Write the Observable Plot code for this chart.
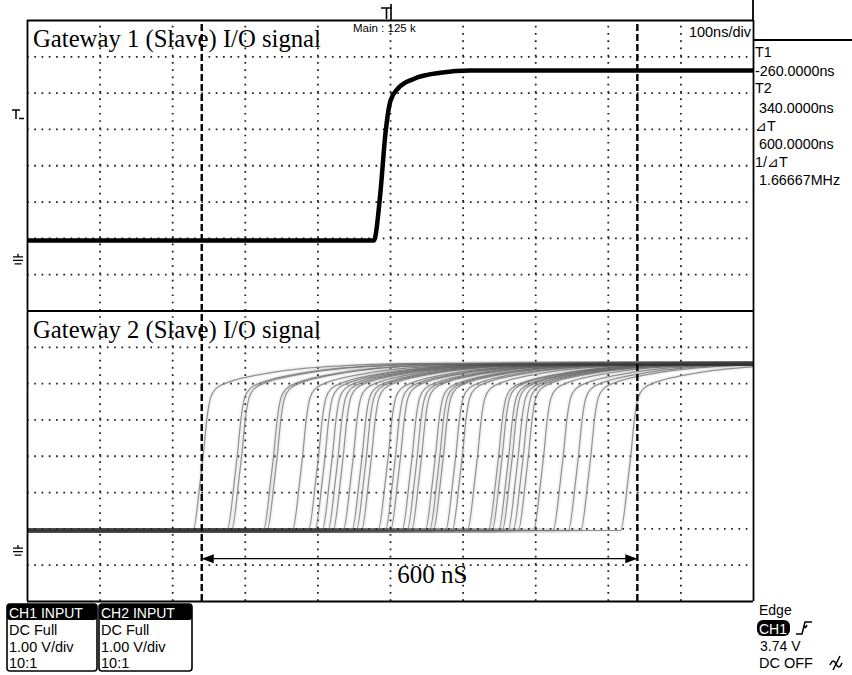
<!DOCTYPE html>
<html>
<head>
<meta charset="utf-8">
<script src="https://cdn.jsdelivr.net/npm/d3@7"></script>
<script src="https://cdn.jsdelivr.net/npm/@observablehq/plot@0.6"></script>
<style>
  body { margin: 0; background: #fff; }
  #chart { width: 852px; height: 675px; overflow: hidden; }
</style>
</head>
<body>
<div id="chart"></div>
<script>
// ---------- data ----------
const timeDomain = [-500, 500];                 // ns, 100 ns/div
const gridTimes = [-400, -300, -200, -100, 0, 100, 200, 300, 400];
const gridDivs = [1, 2, 3, 4, 5, 6, 7, 9, 10, 11, 12, 13, 14, 15]; // divisions (0 = bottom, 16 = top)
const panelEdges = [0, 8, 16];
const ch1Ground = 9.34;                          // divisions
const ch2Ground = 1.32;
// CH1 (Gateway 1) single edge
const ch1Time = [-500, -23, -14, -7, 0, 10, 32, 69, 110, 500];
const ch1Volt = [0.60, 0.60, 1.90, 3.54, 4.45, 4.78, 5.05, 5.22, 5.28, 5.28];
// CH2 (Gateway 2) persistence: edge times (ns, mid crossing) of the overlaid traces
const ch2EdgeTimes = [-258, -211, -205, -161, -156, -121, -99, -90, -80, -72, -65, -51, -39, -33, -26,
  -3, 7, 14, 30, 37, 43, 62, 68, 73, 90, 99, 120, 149, 154, 163, 168, 176, 183, 190, 211, 238, 259, 276, 331];
const ch2ShapeDt = [-14, -4, 0, 5, 10, 18, 35, 70, 130, 200, 280];
const ch2ShapeV  = [0.635, 2.0, 2.7, 3.7, 4.28, 4.55, 4.72, 4.9, 5.08, 5.18, 5.23];
const ch2Low = 0.635, ch2High = 5.23;
const cursorTimes = [-260, 340];                 // T1, T2
const arrowDiv = 1.18;
const cursorLabels = ["T1", "-260.0000ns", "T2", " 340.0000ns", "\u22BFT", " 600.0000ns", "1/\u22BFT", " 1.66667MHz"];
const chBoxes = [
  {title: "CH1 INPUT", lines: ["DC Full", "1.00 V/div", "10:1"]},
  {title: "CH2 INPUT", lines: ["DC Full", "1.00 V/div", "10:1"]}
];
const triggerLines = ["Edge", "CH1", "3.74 V", "DC OFF"];

// ---------- tables ----------
const ch1Rows = ch1Time.map((t, i) => ({t, y: ch1Ground + ch1Volt[i]}));
const ch2Rows = [];
ch2EdgeTimes.forEach((te, k) => {
  ch2Rows.push({id: k, t: -500, y: ch2Ground + ch2Low});
  ch2ShapeDt.forEach((dt, i) => ch2Rows.push({id: k, t: te + dt, y: ch2Ground + ch2ShapeV[i]}));
  if (te + ch2ShapeDt[ch2ShapeDt.length - 1] < 500) ch2Rows.push({id: k, t: 500, y: ch2Ground + ch2High});
});

const arrowRight = {draw(ctx) { ctx.moveTo(0, 0); ctx.lineTo(-12, -4.5); ctx.lineTo(-12, 4.5); ctx.closePath(); }};
const arrowLeft  = {draw(ctx) { ctx.moveTo(0, 0); ctx.lineTo(12, -4.5); ctx.lineTo(12, 4.5); ctx.closePath(); }};

const dotted = {stroke: "#222", strokeWidth: 1.8, strokeDasharray: "1.7,5.56"};

const chart = Plot.plot({
  width: 852, height: 675,
  marginLeft: 27, marginRight: 99, marginTop: 20, marginBottom: 74,
  x: {domain: timeDomain, range: [27, 753], axis: null},
  y: {domain: [0, 16], range: [601, 20], axis: null},
  marks: [
    Plot.ruleX(gridTimes, {y1: 0, y2: 16, ...dotted}),
    Plot.ruleY(gridDivs, {x1: -500, x2: 500, ...dotted}),
    // CH2 persistence traces
    Plot.line(ch2Rows, {x: "t", y: "y", z: "id", stroke: "#8c8c8c", strokeWidth: 1.2, strokeOpacity: 0.9, curve: "monotone-x", clip: true}),
    Plot.line(ch2Rows, {x: "t", y: "y", z: "id", stroke: "#333", strokeWidth: 4.5, strokeOpacity: 0.06, curve: "monotone-x", clip: true}),
    // CH1 trace
    Plot.line(ch1Rows, {x: "t", y: "y", stroke: "black", strokeWidth: 4.5, curve: "monotone-x", clip: true}),
    // frame
    Plot.ruleY(panelEdges, {x1: -500, x2: 500, stroke: "black", strokeWidth: 1.8}),
    Plot.ruleX(timeDomain, {y1: 0, y2: 16, stroke: "black", strokeWidth: 1.8}),
    // cursors
    Plot.ruleX(cursorTimes, {y1: 0, y2: 16, stroke: "black", strokeWidth: 2.4, strokeDasharray: "7,3"}),
    // 600 nS arrow
    Plot.link([{a: cursorTimes[0], b: cursorTimes[1]}], {x1: "a", x2: "b", y1: () => arrowDiv, y2: () => arrowDiv, stroke: "black", strokeWidth: 1.3}),
    Plot.dot([cursorTimes[0]], {x: d => d, y: () => arrowDiv, symbol: arrowLeft, fill: "black", stroke: "none", r: 5}),
    Plot.dot([cursorTimes[1]], {x: d => d, y: () => arrowDiv, symbol: arrowRight, fill: "black", stroke: "none", r: 5})
  ]
});
document.getElementById("chart").appendChild(chart);

// ---------- scope chrome (text & small glyphs) ----------
const sx = chart.scale("x"), sy = chart.scale("y");
const X = v => sx.apply(v), Y = v => sy.apply(v);
const SERIF = "'Liberation Serif', 'Times New Roman', serif";
const SANS = "'Liberation Sans', Arial, sans-serif";
const g = d3.select(chart).append("g");
function txt(x, y, s, o = {}) {
  return g.append("text").attr("x", x).attr("y", y).text(s)
    .attr("font-family", o.family || SANS).attr("font-size", o.size || 14)
    .attr("fill", o.fill || "black").attr("text-anchor", o.anchor || "start")
    .attr("font-weight", o.weight || "normal").style("white-space", "pre");
}
function path(d, o = {}) {
  return g.append("path").attr("d", d).attr("fill", o.fill || "none")
    .attr("stroke", o.stroke || "black").attr("stroke-width", o.sw || 1.4);
}
// titles
txt(X(-500) + 6, 46.5, "Gateway 1 (Slave) I/O signal", {family: SERIF, size: 24.7});
txt(X(-500) + 6, 338, "Gateway 2 (Slave) I/O signal", {family: SERIF, size: 24.7});
txt(X(10), Y(0.5), "600 nS", {family: SERIF, size: 25});
// header texts
txt(353, 32, "Main : 125 k", {size: 11.5});
txt(X(500) - 2, 37, "100ns/div", {size: 14.5, anchor: "end"});
// top-right box lines
path(`M${X(500)},0V${Y(16)}`, {sw: 1.8});
path(`M${X(500)},40H852`, {sw: 1.8});
// cursor readout
const ro = [57, 76, 93, 113, 131, 149, 167, 185];
cursorLabels.forEach((s, i) => txt(755, ro[i], s, {size: 14.3}));
// trigger position marker (top)
path(`M381,8H392M386.5,8V19M391,4V20`, {sw: 1.6});
// trigger level marker (left, CH1)
path(`M12,110H20M16,110V119M19,118.5H24`, {sw: 1.5});
// ground markers
[ch1Ground, ch2Ground].forEach(gd => {
  const yy = Y(gd);
  path(`M13,${yy - 5}H23M13,${yy - 1.5}H23M14.5,${yy + 2}H21.5M18,${yy - 8}V${yy - 5}`, {sw: 1.3});
});
// channel boxes
const bx = [7, 99], bw = [90, 93];
chBoxes.forEach((b, i) => {
  g.append("rect").attr("x", bx[i]).attr("y", 604).attr("width", bw[i]).attr("height", 67).attr("rx", 3)
    .attr("fill", "white").attr("stroke", "black").attr("stroke-width", 1.6);
  g.append("rect").attr("x", bx[i]).attr("y", 604).attr("width", bw[i]).attr("height", 16).attr("rx", 3).attr("fill", "black");
  txt(bx[i] + 2, 617.5, b.title, {size: 14, fill: "white"});
  b.lines.forEach((s, j) => txt(bx[i] + 2, 635 + j * 16.5, s, {size: 14.5}));
});
// trigger info
txt(759, 615, triggerLines[0], {size: 14});
g.append("rect").attr("x", 757).attr("y", 620).attr("width", 33).attr("height", 16).attr("rx", 6).attr("fill", "black");
txt(759, 633.5, triggerLines[1], {size: 14, fill: "white"});
path(`M796,634H802L805,622H812M805.5,628l-1.5,-3m1.5,3l1.5,-3`, {sw: 1.5});
txt(760, 651, triggerLines[2], {size: 14});
txt(759, 668, triggerLines[3], {size: 14.5});
// noise-reject glyph
path(`M830,665c2,-5 4,-5 6,-1s4,4 6,-1M833,670L840,656`, {sw: 1.5});
</script>
</body>
</html>
